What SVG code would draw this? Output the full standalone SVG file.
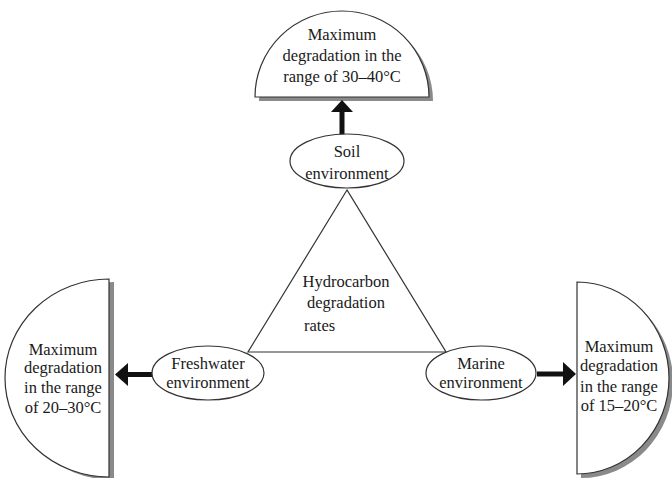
<svg xmlns="http://www.w3.org/2000/svg" width="672" height="478" viewBox="0 0 672 478">
<style>
.t{font-family:"Liberation Serif","Times New Roman",serif;font-size:16.5px;fill:#1a1a1a;text-anchor:middle}
.shape{fill:#fff;stroke:#333;stroke-width:1.2}
.shadow{fill:#8a8a8a;stroke:none}
.edge{fill:none;stroke:#333;stroke-width:1.2}
.arr{fill:#111;stroke:none}
</style>
<rect width="672" height="478" fill="#fff"/>
<g id="top-result">
<path class="shadow" d="M259,101 A87,86 0 0 1 433,101 Z"/>
<path class="shape" d="M255,97 A87,86 0 0 1 429,97 Z"/>
<text class="t" x="342" y="40">Maximum</text>
<text class="t" x="342" y="61">degradation in the</text>
<text class="t" x="342" y="82">range of 30–40°C</text>
</g>
<g id="left-result">
<path class="shadow" d="M114,282 A104,99 0 0 0 114,480 Z"/>
<path class="shape" d="M109,279 A104,99 0 0 0 109,477 Z"/>
<text class="t" x="63" y="355">Maximum</text>
<text class="t" x="63" y="373">degradation</text>
<text class="t" x="63" y="393">in the range</text>
<text class="t" x="63" y="413">of 20–30°C</text>
</g>
<g id="right-result">
<path class="shadow" d="M581,286 A92,96 0 0 1 581,478 Z"/>
<path class="shape" d="M577,282 A92,96 0 0 1 577,474 Z"/>
<text class="t" x="619" y="352">Maximum</text>
<text class="t" x="619" y="371">degradation</text>
<text class="t" x="619" y="392">in the range</text>
<text class="t" x="619" y="411">of 15–20°C</text>
</g>
<g id="connectors">
<polygon class="edge" points="347,190 248,352 446,352"/>
<rect class="arr" x="339.5" y="111" width="5" height="24"/>
<polygon class="arr" points="342,100 331,112 353,112"/>
<rect class="arr" x="127" y="372" width="26" height="5"/>
<polygon class="arr" points="115,374.5 128,363 128,386"/>
<rect class="arr" x="537" y="371.5" width="27" height="5"/>
<polygon class="arr" points="576,374 563,362 563,386"/>
</g>
<g id="soil">
<ellipse class="shape" cx="347" cy="161" rx="57" ry="27"/>
<text class="t" x="347" y="157">Soil</text>
<text class="t" x="347" y="179">environment</text>
</g>
<g id="center">
<text class="t" x="346" y="287">Hydrocarbon</text>
<text class="t" x="346" y="308">degradation</text>
<text class="t" x="304" y="331" style="text-anchor:start">rates</text>
</g>
<g id="freshwater">
<ellipse class="shape" cx="208" cy="373" rx="56" ry="27"/>
<text class="t" x="208" y="369">Freshwater</text>
<text class="t" x="208" y="388">environment</text>
</g>
<g id="marine">
<ellipse class="shape" cx="481" cy="373" rx="55" ry="27"/>
<text class="t" x="481" y="369">Marine</text>
<text class="t" x="481" y="388">environment</text>
</g>
</svg>
